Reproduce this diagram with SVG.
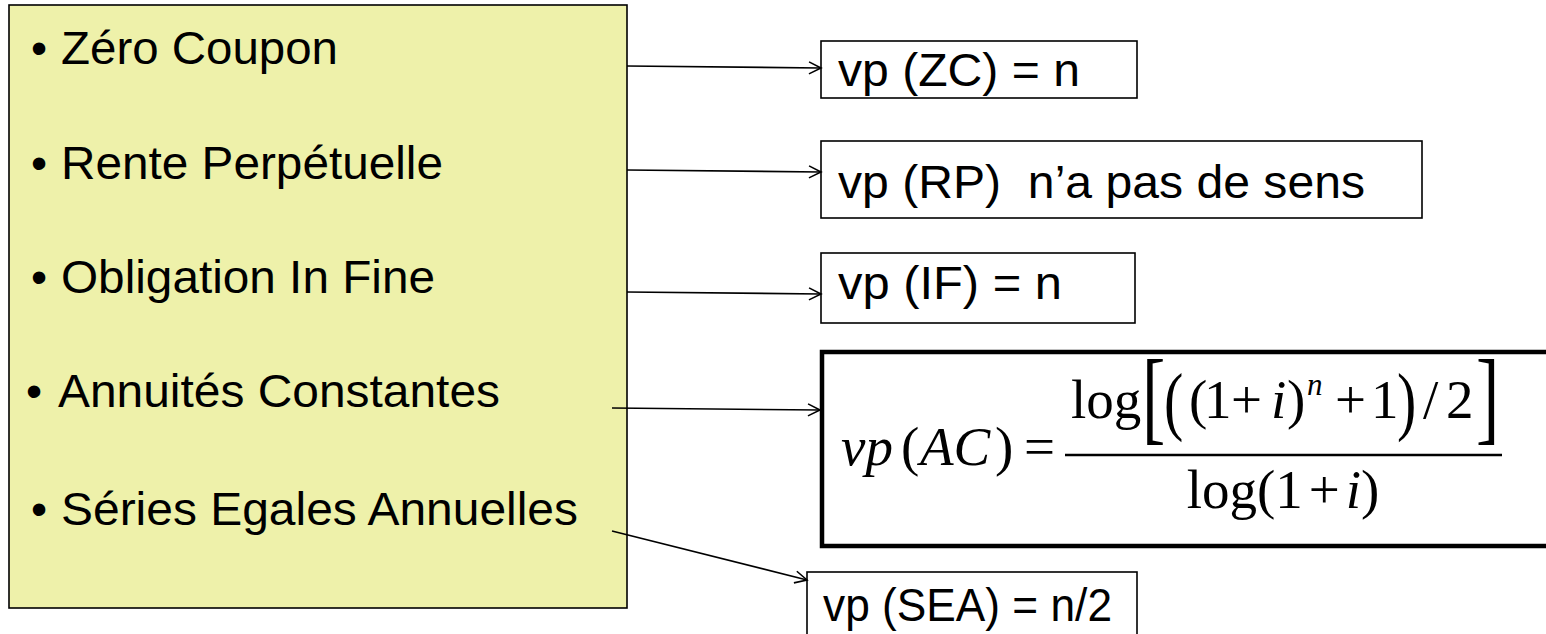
<svg xmlns="http://www.w3.org/2000/svg" width="1546" height="634" viewBox="0 0 1546 634">
<style>
.box{fill:#ffffff;stroke:#000;stroke-width:1.6}
.lbl{font-family:"Liberation Sans",Arial,sans-serif;font-size:46px;fill:#000;white-space:pre}
.m{font-family:"Liberation Serif","Times New Roman",serif;font-size:55px;fill:#000}
.mi{font-style:italic}
.conn{stroke:#000;stroke-width:1.6;fill:none;marker-end:url(#arr)}
</style>
<defs>
<marker id="arr" markerUnits="userSpaceOnUse" markerWidth="16" markerHeight="16" refX="13" refY="7" orient="auto">
<path d="M1,1 L13,7 L1,13" fill="none" stroke="#000" stroke-width="1.6"/>
</marker>
</defs>
<rect width="1546" height="634" fill="#ffffff"/>
<g id="list">
<rect x="9" y="5" width="618" height="603" fill="#EEF1AA" stroke="#000" stroke-width="1.6"/>
<text class="lbl" y="64"><tspan x="31">•</tspan><tspan x="61" textLength="277" lengthAdjust="spacingAndGlyphs">Zéro Coupon</tspan></text>
<text class="lbl" y="179"><tspan x="31">•</tspan><tspan x="61" textLength="382" lengthAdjust="spacingAndGlyphs">Rente Perpétuelle</tspan></text>
<text class="lbl" y="293"><tspan x="31">•</tspan><tspan x="61" textLength="374" lengthAdjust="spacingAndGlyphs">Obligation In Fine</tspan></text>
<text class="lbl" y="407"><tspan x="26">•</tspan><tspan x="58" textLength="442" lengthAdjust="spacingAndGlyphs">Annuités Constantes</tspan></text>
<text class="lbl" y="525"><tspan x="31">•</tspan><tspan x="61" textLength="517" lengthAdjust="spacingAndGlyphs">Séries Egales Annuelles</tspan></text>
</g>
<g id="zc">
<rect class="box" x="821" y="41" width="316" height="57"/>
<text class="lbl" x="838" y="86" textLength="242" lengthAdjust="spacingAndGlyphs">vp (ZC) = n</text>
</g>
<g id="rp">
<rect class="box" x="821" y="141" width="601" height="77"/>
<text class="lbl" x="838" y="198" textLength="527" lengthAdjust="spacingAndGlyphs">vp (RP)  n’a pas de sens</text>
</g>
<g id="if">
<rect class="box" x="821" y="253" width="314" height="70"/>
<text class="lbl" x="838" y="299" textLength="224" lengthAdjust="spacingAndGlyphs">vp (IF) = n</text>
</g>
<g id="ac">
<rect x="822" y="352" width="730" height="194" fill="#fff" stroke="#000" stroke-width="4.5"/>
<text class="m" y="465"><tspan class="mi" x="841">vp</tspan><tspan x="901">(</tspan><tspan class="mi" x="920">AC</tspan><tspan x="995">)</tspan><tspan x="1024">=</tspan></text>
<line x1="1065" y1="455" x2="1502" y2="455" stroke="#000" stroke-width="2.4"/>
<text class="m" y="418"><tspan x="1071">log</tspan><tspan x="1189">(</tspan><tspan x="1204">1</tspan><tspan x="1231">+</tspan><tspan class="mi" x="1271">i</tspan><tspan x="1287">)</tspan><tspan x="1335">+</tspan><tspan x="1371">1</tspan><tspan x="1423">/</tspan><tspan x="1446">2</tspan></text>
<text class="m" transform="translate(1142,431) scale(1,1.48)" style="font-size:70px">[</text>
<text class="m" transform="translate(1476,431) scale(1,1.48)" style="font-size:70px">]</text>
<text class="m" transform="translate(1164,426) scale(1,1.33)" style="font-size:58px">(</text>
<text class="m" transform="translate(1397,426) scale(1,1.33)" style="font-size:58px">)</text>
<text class="m mi" x="1307" y="395" style="font-size:31px">n</text>
<text class="m" x="1283" y="508" text-anchor="middle">log(1<tspan dx="6">+</tspan><tspan dx="6" class="mi">i</tspan>)</text>
</g>
<g id="sea">
<rect class="box" x="807" y="572" width="330" height="70"/>
<text class="lbl" x="823" y="621" textLength="289" lengthAdjust="spacingAndGlyphs">vp (SEA) = n/2</text>
</g>
<g id="connectors">
<line class="conn" x1="627" y1="66" x2="821" y2="68"/>
<line class="conn" x1="627" y1="170" x2="821" y2="172"/>
<line class="conn" x1="627" y1="292" x2="821" y2="294"/>
<line class="conn" x1="612" y1="408" x2="820" y2="410"/>
<line class="conn" x1="612" y1="531" x2="807" y2="580"/>
</g>
</svg>
